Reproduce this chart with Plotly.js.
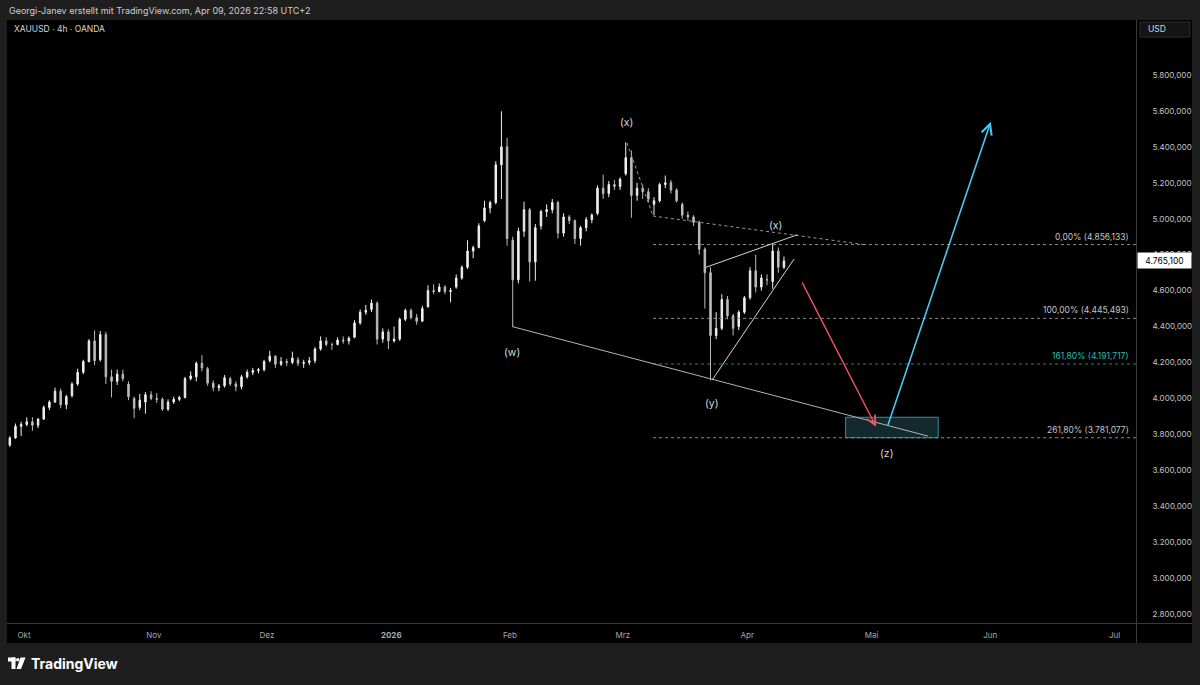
<!DOCTYPE html>
<html><head><meta charset="utf-8">
<script src="https://cdn.plot.ly/plotly-3.0.1.min.js"></script>
<style>html,body{margin:0;padding:0;background:#1e1e1e;overflow:hidden}#chart{width:1200px;height:685px}</style>
</head><body><div id="chart"></div>
<script>
// ---------- DATA (daily OHLC) ----------
const dates = [
'2025-09-26','2025-09-29','2025-09-30','2025-10-01','2025-10-02','2025-10-03','2025-10-06','2025-10-07','2025-10-08','2025-10-09','2025-10-10',
'2025-10-13','2025-10-14','2025-10-15','2025-10-16','2025-10-17','2025-10-20','2025-10-21','2025-10-22','2025-10-23','2025-10-24',
'2025-10-27','2025-10-28','2025-10-29','2025-10-30','2025-10-31','2025-11-03','2025-11-04','2025-11-05','2025-11-06','2025-11-07',
'2025-11-10','2025-11-11','2025-11-12','2025-11-13','2025-11-14','2025-11-17','2025-11-18','2025-11-19','2025-11-20','2025-11-21',
'2025-11-24','2025-11-25','2025-11-26','2025-11-27','2025-11-28','2025-12-01','2025-12-02','2025-12-03','2025-12-04','2025-12-05',
'2025-12-08','2025-12-09','2025-12-10','2025-12-11','2025-12-12','2025-12-15','2025-12-16','2025-12-17','2025-12-18','2025-12-19',
'2025-12-22','2025-12-23','2025-12-24','2025-12-26','2025-12-29','2025-12-30','2025-12-31','2026-01-02','2026-01-05','2026-01-06',
'2026-01-07','2026-01-08','2026-01-09','2026-01-12','2026-01-13','2026-01-14','2026-01-15','2026-01-16','2026-01-19','2026-01-20',
'2026-01-21','2026-01-22','2026-01-23','2026-01-26','2026-01-27','2026-01-28','2026-01-29','2026-01-30','2026-02-02','2026-02-03',
'2026-02-04','2026-02-05','2026-02-06','2026-02-09','2026-02-10','2026-02-11','2026-02-12','2026-02-13','2026-02-16','2026-02-17',
'2026-02-18','2026-02-19','2026-02-20','2026-02-23','2026-02-24','2026-02-25','2026-02-26','2026-02-27','2026-03-02','2026-03-03',
'2026-03-04','2026-03-05','2026-03-06','2026-03-09','2026-03-10','2026-03-11','2026-03-12','2026-03-13','2026-03-16','2026-03-17',
'2026-03-18','2026-03-19','2026-03-20','2026-03-23','2026-03-24','2026-03-25','2026-03-26','2026-03-27','2026-03-30','2026-03-31',
'2026-04-01','2026-04-02','2026-04-03','2026-04-06','2026-04-07','2026-04-08','2026-04-09'];
const openP = [
3740,3780,3845,3855,3870,3850,3885,3950,3980,4040,3965,
4015,4080,4145,4205,4320,4215,4355,4120,4095,4135,
4080,4000,3950,3980,4020,4000,3995,3940,3980,3995,
4005,4110,4120,4195,4165,4085,4060,4070,4110,4080,
4065,4120,4145,4155,4160,4210,4235,4190,4205,4200,
4215,4195,4200,4210,4275,4320,4300,4300,4325,4320,
4340,4420,4480,4495,4530,4330,4370,4320,4330,4440,
4490,4450,4430,4510,4600,4595,4620,4595,4620,4670,
4730,4820,4840,4990,5060,5090,5300,5400,4880,4660,
4930,5050,4760,4960,5040,5050,5090,4920,5010,4990,
4890,4950,4995,5030,5170,5140,5190,5180,5250,5340,
5130,5170,5150,5080,5100,5190,5200,5160,5080,5020,
5010,4980,4830,4700,4350,4390,4550,4460,4400,4480,
4560,4710,4620,4660,4650,4820,4730];
const highP = [
3790,3860,3870,3895,3895,3890,3960,3990,4060,4055,4020,
4090,4165,4215,4330,4378,4375,4370,4160,4160,4160,
4095,4010,4025,4035,4040,4030,4005,3995,4010,4015,
4120,4150,4205,4240,4175,4100,4080,4130,4120,4095,
4130,4160,4170,4170,4215,4265,4240,4230,4220,4260,
4230,4215,4230,4285,4345,4340,4310,4340,4345,4345,
4435,4495,4520,4550,4540,4390,4385,4400,4450,4500,
4500,4470,4515,4630,4635,4640,4630,4615,4690,4740,
4880,4850,4975,5100,5100,5320,5598,5450,4900,4950,
5095,5060,4970,5050,5080,5110,5100,5030,5020,4995,
4960,5010,5030,5185,5245,5210,5215,5230,5425,5380,
5200,5190,5170,5120,5200,5240,5215,5170,5090,5040,
5020,4990,4840,4730,4480,4580,4570,4470,4490,4570,
4730,4800,4690,4690,4858,4840,4790];
const lowP = [
3730,3775,3790,3845,3820,3835,3880,3935,3975,3945,3940,
4005,4070,4135,4200,4185,4205,4080,4005,4075,4095,
3990,3890,3935,3915,3990,3975,3930,3930,3970,3985,
4000,4100,4095,4150,4070,4040,4040,4060,4070,4040,
4050,4110,4130,4140,4150,4200,4170,4180,4180,4190,
4180,4170,4185,4195,4265,4290,4270,4295,4305,4300,
4335,4410,4465,4480,4300,4310,4275,4310,4320,4430,
4440,4410,4425,4505,4580,4590,4580,4535,4610,4660,
4720,4780,4835,4980,5030,5080,5110,4850,4400,4640,
4900,4650,4655,4940,5010,5030,4890,4900,4970,4860,
4850,4930,4975,5020,5110,5120,5160,5160,5240,5005,
5100,5110,5090,5020,5090,5170,5140,5090,5000,4990,
4960,4800,4500,4100,4330,4380,4440,4350,4380,4470,
4550,4590,4600,4630,4610,4700,4720];
const closeP = [
3780,3845,3855,3870,3850,3885,3950,3980,4040,3965,4010,
4080,4145,4205,4320,4210,4355,4120,4095,4135,4110,
4010,3945,3990,4020,4000,3995,3940,3980,3995,4005,
4110,4125,4195,4170,4085,4060,4070,4115,4080,4065,
4120,4145,4155,4160,4205,4235,4190,4205,4200,4225,
4195,4200,4210,4275,4320,4300,4300,4325,4320,4335,
4420,4480,4490,4530,4330,4370,4320,4330,4440,4490,
4450,4430,4500,4600,4595,4620,4595,4600,4670,4730,
4820,4840,4960,5060,5090,5300,5400,4890,4660,4930,
5050,4760,4950,5040,5050,5090,4920,5010,4990,4890,
4950,4995,5020,5170,5140,5190,5180,5220,5340,5130,
5170,5150,5110,5100,5190,5200,5160,5100,5020,5010,
4980,4830,4700,4350,4390,4550,4460,4390,4480,4560,
4710,4620,4670,4660,4820,4730,4765];

// axis tick labels
const monthTickDates = ['2025-10-01','2025-11-03','2025-12-01','2026-01-02','2026-02-02','2026-03-02','2026-04-01','2026-05-01','2026-06-01','2026-07-01'];
const monthTickLabels = ['Okt','Nov','Dez','<b>2026</b>','Feb','Mrz','Apr','Mai','Jun','Jul'];
const priceTicks = [2800,3000,3200,3400,3600,3800,4000,4200,4400,4600,4800,5000,5200,5400,5600,5800];
const priceTickLabels = ['2.800,000','3.000,000','3.200,000','3.400,000','3.600,000','3.800,000','4.000,000','4.200,000','4.400,000','4.600,000','4.800,000','5.000,000','5.200,000','5.400,000','5.600,000','5.800,000'];

// Fibonacci levels
const fibLevels = [4856.133, 4445.493, 4191.717, 3781.077];
const fibLabels = ['0,00% (4.856,133)','100,00% (4.445,493)','161,80% (4.191,717)','261,80% (3.781,077)'];
const fibColors = ['#8c8c8c','#8c8c8c','#17877e','#8c8c8c'];
const fibTextColors = ['#c4c4c4','#c4c4c4','#2bbcac','#c4c4c4'];
const lastPrice = 4765.1;
const lastPriceLabel = '4.765,100';

// wave labels (date, price)
const waveText = ['(w)','(x)','(x)','(y)','(z)'];
const waveDate = ['2026-02-02 09:30','2026-03-02 17:00','2026-04-07 22:00','2026-03-23 19:00','2026-05-05 14:00'];
const wavePrice = [4253, 5533, 4960, 3969, 3696];

// ---------- LAYOUT HELPERS (pixel -> paper) ----------
const PL=7, PR=1136, PT=20, PB=623;
const px = x => (x-PL)/(PR-PL);
const py = y => (PB-y)/(PB-PT);

const shapes = [];
// black chart panel & separators
shapes.push({type:'rect',xref:'paper',yref:'paper',x0:px(7),x1:px(1192),y0:py(643),y1:py(20),fillcolor:'#000000',line:{width:0},layer:'below'});
shapes.push({type:'line',xref:'paper',yref:'paper',x0:px(1136.5),x1:px(1136.5),y0:py(643),y1:py(20),line:{color:'#3a3a3a',width:1}});
shapes.push({type:'line',xref:'paper',yref:'paper',x0:px(7),x1:px(1192),y0:py(623.5),y1:py(623.5),line:{color:'#3a3a3a',width:1}});
// USD box
shapes.push({type:'rect',xref:'paper',yref:'paper',x0:px(1140),x1:px(1190),y0:py(37),y1:py(22),fillcolor:'#141414',line:{color:'#2c2c2c',width:1}});
// TradingView logo glyph
shapes.push({type:'rect',xref:'paper',yref:'paper',x0:px(8),x1:px(15.5),y0:py(661.5),y1:py(657.5),fillcolor:'#ffffff',line:{width:0}});
shapes.push({type:'rect',xref:'paper',yref:'paper',x0:px(11.5),x1:px(15.5),y0:py(669),y1:py(657.5),fillcolor:'#ffffff',line:{width:0}});
shapes.push({type:'circle',xref:'paper',yref:'paper',x0:px(16),x1:px(19.5),y0:py(661.5),y1:py(658),fillcolor:'#ffffff',line:{width:0}});
shapes.push({type:'path',xref:'paper',yref:'paper',path:`M ${px(20.5)},${py(657.5)} L ${px(25.5)},${py(657.5)} L ${px(21)},${py(669)} L ${px(16.5)},${py(669)} Z`,fillcolor:'#ffffff',line:{width:0}});

// target zone rectangle
shapes.push({type:'rect',xref:'x',yref:'y',x0:'2026-04-24 10:00',x1:'2026-05-18 19:00',y0:3781,y1:3895,fillcolor:'#13292d',line:{color:'#2b95a2',width:1}});
// fib levels
fibLevels.forEach((v,i)=>{
  shapes.push({type:'line',xref:'x',yref:'y',x0:'2026-03-09 08:00',x1:'2026-08-31',y0:v,y1:v,line:{color:fibColors[i],width:1,dash:'dot'}});
});
// dotted lines from (x)
shapes.push({type:'line',xref:'x',yref:'y',x0:'2026-03-02 17:30',y0:5421,x1:'2026-03-09 08:00',y1:5015,line:{color:'#9a9a9a',width:1,dash:'dot'}});
shapes.push({type:'line',xref:'x',yref:'y',x0:'2026-03-09 08:00',y0:5015,x1:'2026-04-30 05:00',y1:4854,line:{color:'#9a9a9a',width:1,dash:'dot'}});
// trend lines
shapes.push({type:'line',xref:'x',yref:'y',x0:'2026-02-02 09:00',y0:4400,x1:'2026-05-15 00:00',y1:3790,line:{color:'#b4b4b4',width:1}});
shapes.push({type:'line',xref:'x',yref:'y',x0:'2026-03-23 19:00',y0:4102,x1:'2026-04-13 07:00',y1:4776,line:{color:'#d4d4d4',width:1}});
shapes.push({type:'line',xref:'x',yref:'y',x0:'2026-03-20 17:00',y0:4730,x1:'2026-04-13 21:30',y1:4911,line:{color:'#d4d4d4',width:1}});

const annotations = [];
const FONT = 'Inter, "Noto Sans", Roboto, sans-serif';
annotations.push({xref:'paper',yref:'paper',x:px(7),y:py(10),xanchor:'left',yanchor:'middle',showarrow:false,
  text:'Georgi-Janev erstellt mit TradingView.com, Apr 09, 2026 22:58 UTC+2',font:{family:FONT,size:9,color:'#cfcfcf'}});
annotations.push({xref:'paper',yref:'paper',x:px(12),y:py(29),xanchor:'left',yanchor:'middle',showarrow:false,
  text:'XAUUSD · 4h · OANDA',font:{family:FONT,size:8.5,color:'#d6d6d6'}});
annotations.push({xref:'paper',yref:'paper',x:px(1146),y:py(29.5),xanchor:'left',yanchor:'middle',showarrow:false,
  text:'USD',font:{family:FONT,size:8.5,color:'#d6d6d6'}});
annotations.push({xref:'paper',yref:'paper',x:px(29),y:py(663.5),xanchor:'left',yanchor:'middle',showarrow:false,
  text:'<b>TradingView</b>',font:{family:FONT,size:14,color:'#ffffff'}});
// fib labels
fibLevels.forEach((v,i)=>{
  annotations.push({xref:'paper',yref:'y',x:px(1131),y:v,xanchor:'right',yanchor:'bottom',yshift:1,showarrow:false,
    text:fibLabels[i],font:{family:FONT,size:8.5,color:fibTextColors[i]}});
});
// wave labels
waveText.forEach((t,i)=>{
  annotations.push({xref:'x',yref:'y',x:waveDate[i],y:wavePrice[i],showarrow:false,text:t,
    font:{family:FONT,size:10.5,color:'#d6d6d6'}});
});
// arrows
annotations.push({xref:'x',yref:'y',axref:'x',ayref:'y',x:'2026-05-01 19:12',y:3842,ax:'2026-04-14 14:24',ay:4653,
  text:'',showarrow:true,arrowhead:5,arrowsize:1.3,arrowwidth:1.4,arrowcolor:'#f7525f',standoff:0,startstandoff:0});
annotations.push({xref:'x',yref:'y',axref:'x',ayref:'y',x:'2026-06-01 02:24',y:5540,ax:'2026-05-05 19:12',ay:3842,
  text:'',showarrow:true,arrowhead:5,arrowsize:1.3,arrowwidth:1.6,arrowcolor:'#48c9ef',standoff:0,startstandoff:0});
// last price label
annotations.push({xref:'paper',yref:'y',x:1,xshift:1,y:lastPrice,xanchor:'left',yanchor:'middle',showarrow:false,
  text:lastPriceLabel,bgcolor:'#ffffff',borderpad:2,width:49,height:11,align:'center',
  font:{family:FONT,size:8.5,color:'#000000'}});

const trace = {
  type:'candlestick', x: dates.map(d=>d+' 12:00'), open:openP, high:highP, low:lowP, close:closeP,
  increasing:{line:{color:'#f0f0f0',width:1},fillcolor:'#f0f0f0'},
  decreasing:{line:{color:'#bcbcbc',width:1},fillcolor:'#bcbcbc'},
  whiskerwidth:0, hoverinfo:'skip', showlegend:false
};

const layout = {
  width:1200, height:685,
  margin:{l:PL, r:1200-PR, t:PT, b:685-PB, pad:0},
  paper_bgcolor:'#1e1e1e', plot_bgcolor:'#000000',
  font:{family:FONT,color:'#c0c0c0'},
  showlegend:false,
  boxgap:0.62,
  xaxis:{type:'date',range:['2025-09-26 00:00','2026-07-06 19:12'],
    rangebreaks:[{pattern:'day of week',bounds:[6,1]},{values:['2025-12-25','2026-01-01']}],
    rangeslider:{visible:false},tickmode:'array',tickvals:monthTickDates,ticktext:monthTickLabels,
    tickfont:{family:FONT,size:8,color:'#a8a8a8'},ticks:'outside',ticklen:4,tickcolor:'rgba(0,0,0,0)',
    showgrid:false,zeroline:false,showline:false,fixedrange:true},
  yaxis:{side:'right',range:[2750,6106],tickmode:'array',tickvals:priceTicks,ticktext:priceTickLabels,
    tickfont:{family:FONT,size:8,color:'#c4c4c4'},ticks:'outside',ticklen:14,tickcolor:'rgba(0,0,0,0)',
    showgrid:false,zeroline:false,showline:false,fixedrange:true},
  shapes, annotations
};

Plotly.newPlot('chart',[trace],layout,{displayModeBar:false,staticPlot:true});
</script>
</body></html>
